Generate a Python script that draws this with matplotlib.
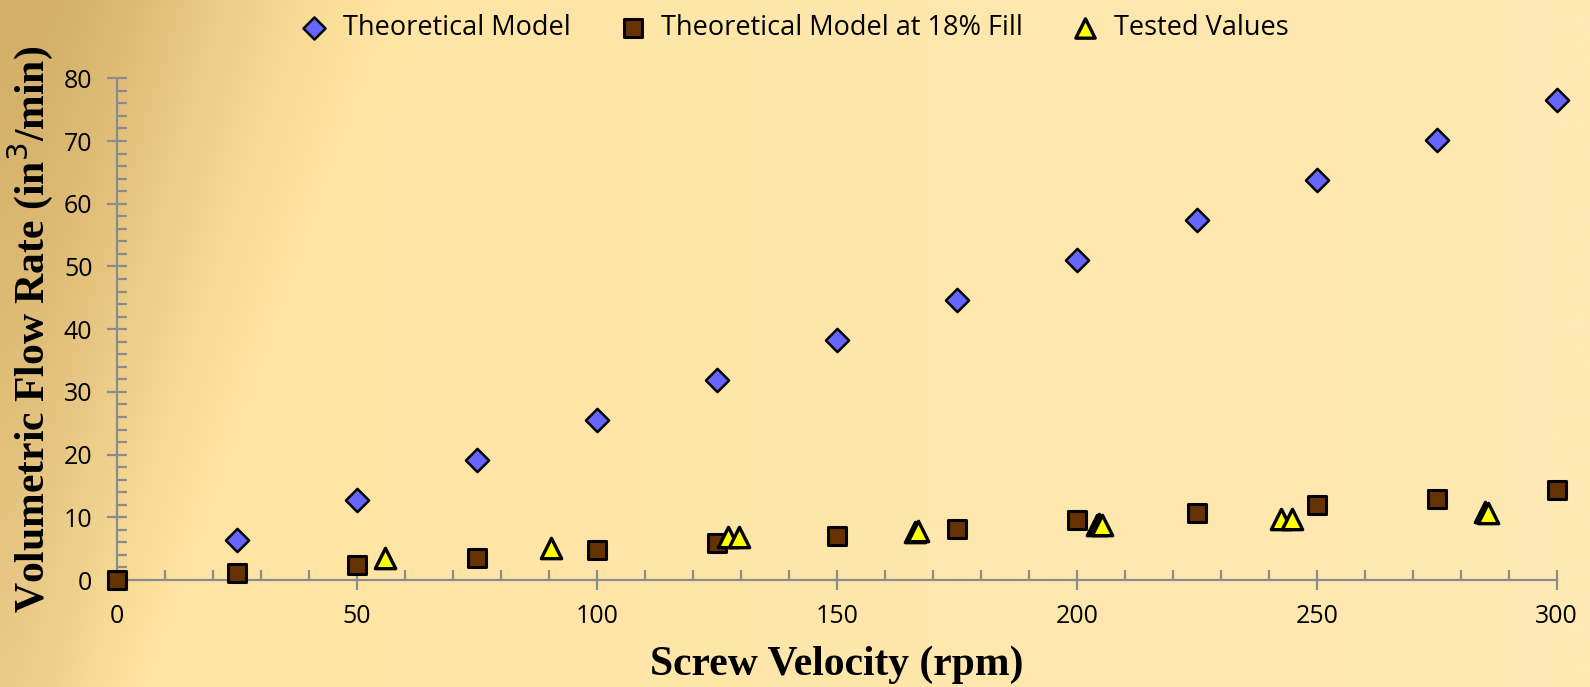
import numpy as np
import matplotlib.pyplot as plt
from matplotlib.colors import LinearSegmentedColormap
from matplotlib.ticker import MultipleLocator

# screw speed (rpm) and flow rates (in^3/min)
rpm_model = [25, 50, 75, 100, 125, 150, 175, 200, 225, 250, 275, 300]
flow_model = [6.4, 12.8, 19.1, 25.5, 31.9, 38.3, 44.7, 51.0, 57.4, 63.8, 70.2, 76.6]

rpm_fill = [0, 25, 50, 75, 100, 125, 150, 175, 200, 225, 250, 275, 300]
flow_fill = [0.0, 1.2, 2.4, 3.5, 4.8, 5.9, 7.1, 8.2, 9.5, 10.7, 11.9, 13.0, 14.3]

rpm_tested = [55.9, 90.4, 127.3, 129.6, 166.3, 167.0, 204.2, 204.6, 205.2, 242.6, 244.9, 285.0, 285.6]
flow_tested = [3.5, 5.1, 6.8, 6.8, 7.7, 7.8, 8.8, 8.9, 8.8, 9.8, 9.8, 10.9, 10.7]

fig = plt.figure(figsize=(15.9, 6.87), dpi=100)

# background gradient: tan in the top-left corner fading into pale yellow
bg = fig.add_axes([0, 0, 1, 1], zorder=-10)
bg.axis("off")
xx, yy = np.meshgrid(np.linspace(0, 1, 800), np.linspace(0, 1, 400))  # yy=0 at top
w = 0.28 - 0.18 * yy
s = np.clip(xx / w, 0, 1)
s = s * s * (3 - 2 * s)
t = 1 - (1 - s) * (1 - 0.5 * yy)
val = 0.85 * t + 0.15 * xx
cmap = LinearSegmentedColormap.from_list(
    "bg", [(0, "#d2ae66"), (0.45, "#eccd8a"), (0.85, "#fee4a0"), (1, "#ffe9b4")])
bg.imshow(val, cmap=cmap, aspect="auto", extent=[0, 1, 0, 1], origin="upper", vmin=0, vmax=1)

ax = fig.add_axes([0.0734, 0.1557, 0.9057, 0.7303])
ax.patch.set_alpha(0)

ax.scatter(rpm_model, flow_model, marker="D", s=140, c="#6666ff", edgecolors="black",
           linewidths=1.8, clip_on=False, zorder=3, label="Theoretical Model")
ax.scatter(rpm_fill, flow_fill, marker="s", s=175, c="#663300", edgecolors="black",
           linewidths=2.2, clip_on=False, zorder=3, label="Theoretical Model at 18% Fill")
ax.scatter(rpm_tested, flow_tested, marker="^", s=215, c="#ffff00", edgecolors="black",
           linewidths=2.4, clip_on=False, zorder=4, label="Tested Values")

ax.set_xlim(0, 300)
ax.set_ylim(0, 80)
for side in ["top", "right"]:
    ax.spines[side].set_visible(False)
for side in ["left", "bottom"]:
    ax.spines[side].set_color("#8c8c8c")
    ax.spines[side].set_linewidth(1.6)

ax.xaxis.set_major_locator(MultipleLocator(50))
ax.xaxis.set_minor_locator(MultipleLocator(10))
ax.yaxis.set_major_locator(MultipleLocator(10))
ax.yaxis.set_minor_locator(MultipleLocator(2))
ax.tick_params(which="major", direction="inout", length=15, width=1.6, color="#8c8c8c",
               labelsize=18, pad=10)
ax.tick_params(which="minor", direction="in", length=7, width=1.6, color="#8c8c8c")
for lab in ax.get_xticklabels() + ax.get_yticklabels():
    lab.set_family("Open Sans")

ax.set_xlabel("Screw Velocity (rpm)", family="Liberation Serif", fontweight="bold",
              fontsize=30, labelpad=12)
ax.set_ylabel("Volumetric Flow Rate (in$^{3}$/min)", family="Liberation Serif",
              fontweight="bold", fontsize=30, labelpad=6)

leg = fig.legend(loc="upper center", bbox_to_anchor=(0.4955, 1.015), ncol=3, frameon=False,
                 prop={"family": "Open Sans", "size": 19.5}, handletextpad=0.05,
                 columnspacing=1.3, markerscale=0.95)

fig.savefig("out.png", dpi=100)
